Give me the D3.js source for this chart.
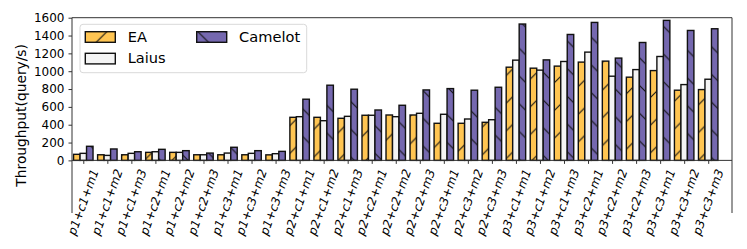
<!DOCTYPE html>
<html>
<head>
<meta charset="utf-8">
<script src="https://cdn.jsdelivr.net/npm/d3@7"></script>
<style>
  body { margin: 0; background: #fff; }
  svg { font-family: "DejaVu Sans", sans-serif; }
</style>
</head>
<body>
<div id="chart"></div>
<script>
var categories = ["p1+c1+m1","p1+c1+m2","p1+c1+m3","p1+c2+m1","p1+c2+m2","p1+c2+m3","p1+c3+m1","p1+c3+m2","p1+c3+m3",
                  "p2+c1+m1","p2+c1+m2","p2+c1+m3","p2+c2+m1","p2+c2+m2","p2+c2+m3","p2+c3+m1","p2+c3+m2","p2+c3+m3",
                  "p3+c1+m1","p3+c1+m2","p3+c1+m3","p3+c2+m1","p3+c2+m2","p3+c2+m3","p3+c3+m1","p3+c3+m2","p3+c3+m3"];
var eaValues = [68, 63, 63, 90, 90, 63, 63, 63, 62,
                483, 483, 472, 506, 509, 509, 416, 416, 427,
                1045, 1034, 1057, 1102, 1113, 933, 1007, 787, 794];
var laiusValues = [79, 56, 79, 97, 90, 63, 82, 79, 75,
                   490, 445, 494, 506, 490, 528, 517, 464, 456,
                   1124, 1012, 1109, 1214, 944, 1018, 1165, 850, 910];
var camelotValues = [158, 128, 97, 124, 109, 82, 147, 109, 101,
                     686, 843, 798, 565, 618, 790, 805, 787, 820,
                     1529, 1127, 1412, 1547, 1147, 1322, 1570, 1457, 1476];
var yTicks = [0, 200, 400, 600, 800, 1000, 1200, 1400, 1600];

var width = 747, height = 249;
var plotLeft = 72, plotRight = 732, plotTop = 17.7, plotBottom = 213;

var series = [
  {name: "EA", values: eaValues, fill: "#FFC552", hatch: "ne", off: -1},
  {name: "Laius", values: laiusValues, fill: "#F4F4F4", hatch: null, off: 0},
  {name: "Camelot", values: camelotValues, fill: "#7568AF", hatch: "nw", off: 1}
];

var svg = d3.select("#chart").append("svg")
  .attr("width", width)
  .attr("height", height);

// hatch patterns
var defs = svg.append("defs");
var hs = 27.7;
[["ne", "M0," + hs + "L" + hs + ",0M-2,2L2,-2M" + (hs - 2) + "," + (hs + 2) + "L" + (hs + 2) + "," + (hs - 2)],
 ["nw", "M0,0L" + hs + "," + hs + "M-2," + (hs - 2) + "L2," + (hs + 2) + "M" + (hs - 2) + ",-2L" + (hs + 2) + ",2"]]
  .forEach(function(p) {
    var pat = defs.append("pattern")
      .attr("id", "hatch-" + p[0])
      .attr("patternUnits", "userSpaceOnUse")
      .attr("width", hs).attr("height", hs);
    pat.append("path").attr("d", p[1])
      .attr("stroke", "#111").attr("stroke-width", 1.1);
  });

var x = d3.scaleLinear().domain([-0.47, 26.99]).range([plotLeft, plotRight]);
var y = d3.scaleLinear().domain([-590, 1600]).range([plotBottom, plotTop]);
var barW = 0.27;
var bw = x(barW) - x(0);

series.forEach(function(s) {
  var g = svg.append("g");
  var bars = g.selectAll("g").data(s.values).enter().append("g");
  bars.append("rect")
    .attr("x", function(d, i) { return x(i + s.off * barW) - bw / 2; })
    .attr("y", function(d) { return y(d); })
    .attr("width", bw)
    .attr("height", function(d) { return y(0) - y(d); })
    .attr("fill", s.fill);
  if (s.hatch) {
    bars.append("rect")
      .attr("x", function(d, i) { return x(i + s.off * barW) - bw / 2; })
      .attr("y", function(d) { return y(d); })
      .attr("width", bw)
      .attr("height", function(d) { return y(0) - y(d); })
      .attr("fill", "url(#hatch-" + s.hatch + ")");
  }
  bars.append("rect")
    .attr("x", function(d, i) { return x(i + s.off * barW) - bw / 2; })
    .attr("y", function(d) { return y(d); })
    .attr("width", bw)
    .attr("height", function(d) { return y(0) - y(d); })
    .attr("fill", "none")
    .attr("stroke", "#111")
    .attr("stroke-width", 1.4);
});

// spines
var spine = "#333";
svg.append("line").attr("x1", plotLeft).attr("x2", plotLeft).attr("y1", plotTop).attr("y2", plotBottom).attr("stroke", spine);
svg.append("line").attr("x1", plotRight).attr("x2", plotRight).attr("y1", plotTop).attr("y2", plotBottom).attr("stroke", spine);
svg.append("line").attr("x1", plotLeft).attr("x2", plotRight).attr("y1", plotTop).attr("y2", plotTop).attr("stroke", spine);

// y axis
var yAxis = svg.append("g")
  .attr("transform", "translate(" + plotLeft + ",0)")
  .call(d3.axisLeft(y).tickValues(yTicks).tickSize(3.5).tickPadding(4).tickFormat(d3.format("d")));
yAxis.select(".domain").remove();
yAxis.selectAll("line").attr("stroke", spine);
yAxis.selectAll("text").attr("font-size", 12).attr("fill", "#000")
  .attr("font-family", "DejaVu Sans");

// x axis at zero
var xAxis = svg.append("g")
  .attr("transform", "translate(0," + y(0) + ")")
  .call(d3.axisBottom(x).tickValues(d3.range(categories.length)).tickSize(3.5).tickFormat(""));
xAxis.select(".domain").attr("d", "M" + plotLeft + ",0H" + plotRight).attr("stroke", spine);
xAxis.selectAll("line").attr("stroke", spine);

var rot = 70, rad = rot * Math.PI / 180, fs = 12;
var labels = svg.append("g").selectAll("text").data(categories).enter().append("text")
  .attr("font-size", fs)
  .attr("font-style", "italic")
  .attr("text-anchor", "middle")
  .attr("dominant-baseline", "central")
  .text(function(d) { return d; });
labels.attr("transform", function(d, i) {
  var L = this.getComputedTextLength();
  var h = fs * 1.17;
  var H = L * Math.sin(rad) + h * Math.cos(rad);
  return "translate(" + x(i) + "," + (y(0) + 7 + H / 2) + ") rotate(" + (-rot) + ")";
});

// y title
svg.append("text")
  .attr("transform", "translate(21," + ((plotTop + plotBottom) / 2) + ") rotate(-90)")
  .attr("text-anchor", "middle")
  .attr("dominant-baseline", "central")
  .attr("font-size", 13.8)
  .text("Throughput(query/s)");

// legend
var lg = svg.append("g");
lg.append("rect")
  .attr("x", 80).attr("y", 24.3).attr("width", 226.7).attr("height", 48.4)
  .attr("rx", 3).attr("fill", "#fff").attr("fill-opacity", 0.8)
  .attr("stroke", "#d9d9d9").attr("stroke-width", 1);
var legPos = [[85.3, 31.7], [85.3, 53.3], [196.7, 31.7]];
series.forEach(function(s, i) {
  var p = legPos[i];
  lg.append("rect").attr("x", p[0]).attr("y", p[1]).attr("width", 30).attr("height", 10.6)
    .attr("fill", s.fill);
  if (s.hatch) {
    lg.append("rect").attr("x", p[0]).attr("y", p[1]).attr("width", 30).attr("height", 10.6)
      .attr("fill", "url(#hatch-" + s.hatch + ")");
  }
  lg.append("rect").attr("x", p[0]).attr("y", p[1]).attr("width", 30).attr("height", 10.6)
    .attr("fill", "none").attr("stroke", "#111").attr("stroke-width", 1.4);
  lg.append("text").attr("x", p[0] + 42.4).attr("y", p[1] + 10)
    .attr("font-size", 14.6).text(s.name);
});
</script>
</body>
</html>
